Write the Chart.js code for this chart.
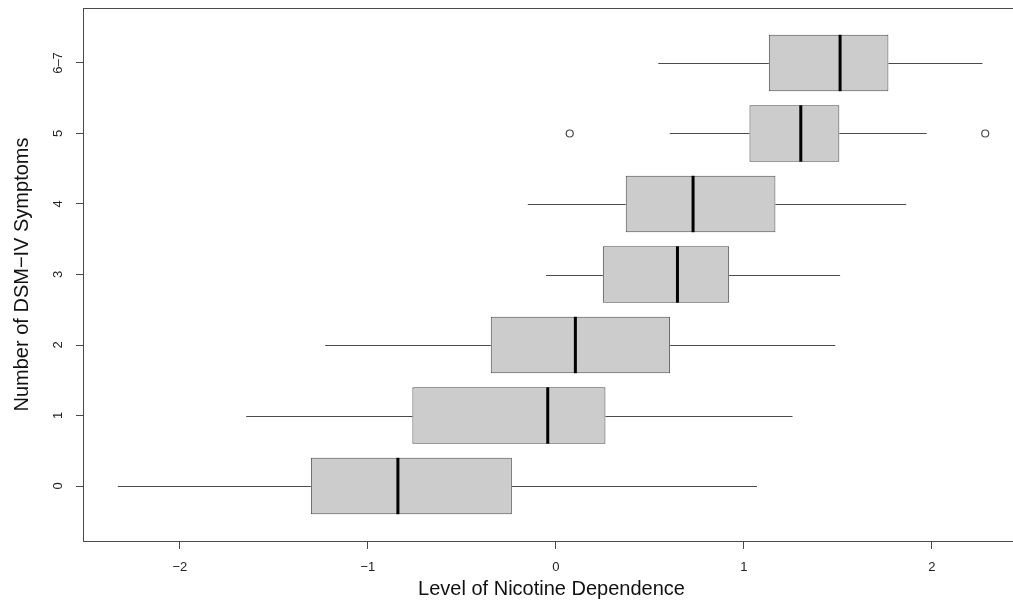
<!DOCTYPE html>
<html>
<head>
<meta charset="utf-8">
<style>
  html, body { margin: 0; padding: 0; background: #fff; overflow: hidden; }
  #wrap { position: absolute; left: 0; top: 0; width: 1030px; height: 606px; }
</style>
<script src="https://cdn.jsdelivr.net/npm/chart.js@4/dist/chart.umd.min.js"></script>
</head>
<body>
<div id="wrap"><canvas id="boxChart" width="1030" height="606"></canvas></div>
<script>
// symptom groups, bottom to top
const categories = ['0', '1', '2', '3', '4', '5', '6\u20137'];
const whiskerLow = [-2.33, -1.647, -1.227, -0.052, -0.149, 0.606, 0.545];
const q1 = [-1.303, -0.763, -0.346, 0.250, 0.372, 1.030, 1.133];
const median = [-0.840, -0.043, 0.104, 0.647, 0.730, 1.303, 1.512];
const q3 = [-0.234, 0.264, 0.608, 0.922, 1.168, 1.508, 1.769];
const whiskerHigh = [1.07, 1.259, 1.486, 1.512, 1.864, 1.973, 2.269];
const outlierX = [0.074, 2.284];
const outlierGroup = [5, 5];
const xTicks = [-2, -1, 0, 1, 2];

const FONT = '"Liberation Sans", Arial, Helvetica, sans-serif';
const LINE = '#4a4a4a';

// whiskers, medians, y labels and frame
const boxExtras = {
    id: 'boxExtras',
    afterDatasetsDraw(chart) {
        const ctx = chart.ctx;
        const xs = chart.scales.x;
        const ys = chart.scales.y;
        ctx.save();
        ctx.strokeStyle = LINE;
        ctx.lineWidth = 1;
        for (let i = 0; i < categories.length; i++) {
            const py = Math.round(ys.getPixelForValue(i)) + 0.5;
            ctx.beginPath();
            ctx.moveTo(xs.getPixelForValue(whiskerLow[i]), py);
            ctx.lineTo(xs.getPixelForValue(q1[i]), py);
            ctx.moveTo(xs.getPixelForValue(q3[i]), py);
            ctx.lineTo(xs.getPixelForValue(whiskerHigh[i]), py);
            ctx.stroke();
        }
        const bar = chart.getDatasetMeta(0).data[0];
        const half = bar ? bar.height / 2 : 28;
        ctx.strokeStyle = '#000';
        ctx.lineWidth = 3;
        for (let i = 0; i < categories.length; i++) {
            const py = ys.getPixelForValue(i);
            const px = xs.getPixelForValue(median[i]);
            ctx.beginPath();
            ctx.moveTo(px, py - half);
            ctx.lineTo(px, py + half);
            ctx.stroke();
        }
        // y tick labels, rotated like R
        ctx.fillStyle = '#222';
        ctx.font = '13px ' + FONT;
        ctx.textAlign = 'center';
        ctx.textBaseline = 'middle';
        for (let i = 0; i < categories.length; i++) {
            ctx.save();
            ctx.translate(58, ys.getPixelForValue(i));
            ctx.rotate(-Math.PI / 2);
            ctx.fillText(categories[i], 0, 0);
            ctx.restore();
        }
        const a = chart.chartArea;
        ctx.strokeStyle = LINE;
        ctx.lineWidth = 1;
        ctx.strokeRect(Math.round(a.left) + 0.5, Math.round(a.top) + 0.5,
            Math.round(a.right - a.left), Math.round(a.bottom - a.top));
        ctx.restore();
    }
};

new Chart(document.getElementById('boxChart'), {
    data: {
        datasets: [
            {
                type: 'bar',
                indexAxis: 'y',
                data: categories.map((c, i) => ({ x: [q1[i], q3[i]], y: i })),
                backgroundColor: '#cccccc',
                borderColor: LINE,
                borderWidth: 1,
                borderSkipped: false,
                barPercentage: 0.8,
                categoryPercentage: 1.0
            },
            {
                type: 'scatter',
                data: outlierX.map((v, i) => ({ x: v, y: outlierGroup[i] })),
                pointStyle: 'circle',
                pointRadius: 3.5,
                pointBackgroundColor: 'rgba(0,0,0,0)',
                pointBorderColor: LINE,
                pointBorderWidth: 1.2
            }
        ]
    },
    options: {
        responsive: false,
        animation: false,
        devicePixelRatio: 1,
        layout: { padding: { top: 8, right: 10, left: 0, bottom: 0 } },
        plugins: { legend: { display: false }, tooltip: { enabled: false } },
        scales: {
            x: {
                type: 'linear',
                offset: false,
                min: -2.515,
                max: 2.469,
                afterBuildTicks: (s) => { s.ticks = xTicks.map(v => ({ value: v })); },
                afterFit: (s) => { s.height = 65; },
                grid: { offset: false, drawOnChartArea: false, drawTicks: true, tickLength: 8, color: LINE },
                border: { display: false },
                ticks: {
                    padding: 11,
                    color: '#222',
                    font: { family: FONT, size: 13 },
                    callback: (v) => String(v).replace('-', '\u2212')
                },
                title: {
                    display: true,
                    text: 'Level of Nicotine Dependence',
                    color: '#111',
                    font: { family: FONT, size: 20 },
                    padding: { top: 0, bottom: 5 }
                }
            },
            y: {
                type: 'linear',
                offset: false,
                min: -0.78,
                max: 6.78,
                afterBuildTicks: (s) => { s.ticks = categories.map((c, i) => ({ value: i })); },
                afterFit: (s) => { s.width = 83; },
                grid: { offset: false, drawOnChartArea: false, drawTicks: true, tickLength: 7, color: LINE },
                border: { display: false },
                ticks: { display: false },
                title: {
                    display: true,
                    text: 'Number of DSM\u2212IV Symptoms',
                    color: '#111',
                    font: { family: FONT, size: 20 },
                    padding: { top: 10, bottom: 0 }
                }
            }
        }
    },
    plugins: [boxExtras]
});
</script>
</body>
</html>
